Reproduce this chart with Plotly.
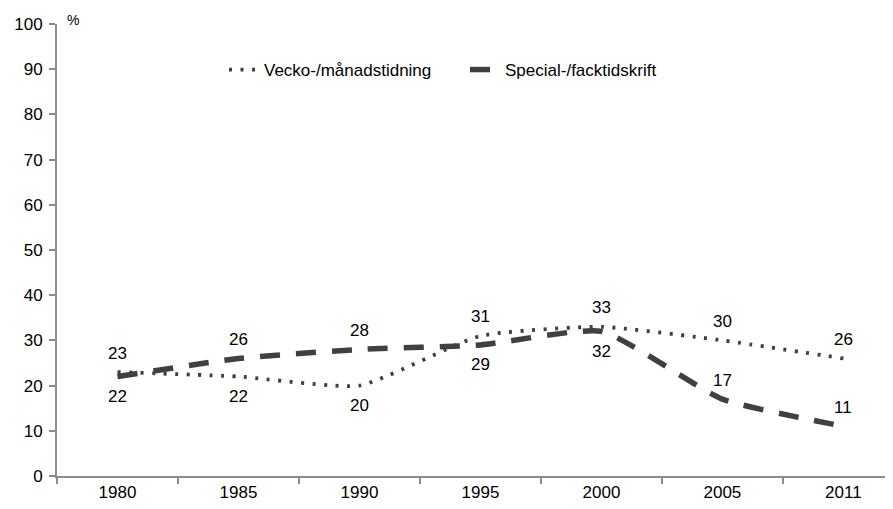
import plotly.graph_objects as go

years = ["1980", "1985", "1990", "1995", "2000", "2005", "2011"]
vecko = [23, 22, 20, 31, 33, 30, 26]
special = [22, 26, 28, 29, 32, 17, 11]
vecko_pos = ["above", "below", "below", "above", "above", "above", "above"]
special_pos = ["below", "above", "above", "below", "below", "above", "above"]
yticks = [0, 10, 20, 30, 40, 50, 60, 70, 80, 90, 100]

xs = list(range(len(years)))
col = "#404040"
font = "Liberation Sans, Arial, sans-serif"
fs = 17
W, H = 893, 509

fig = go.Figure()
fig.add_trace(go.Scatter(x=xs, y=vecko, mode="lines", name="Vecko-/månadstidning", legend="legend",
                         line=dict(color=col, width=3.8, dash="3px,8.5px", shape="spline", smoothing=0.5)))
fig.add_trace(go.Scatter(x=xs, y=special, mode="lines", name="Special-/facktidskrift", legend="legend2",
                         line=dict(color=col, width=5.5, dash="20px,16px", shape="spline", smoothing=0.5)))

anns = []
for vals, pos in ((vecko, vecko_pos), (special, special_pos)):
    for i, (v, p) in enumerate(zip(vals, pos)):
        anns.append(dict(x=xs[i], y=v, text=str(v), showarrow=False,
                         yshift=19 if p == "above" else -20,
                         font=dict(size=fs, color="black", family=font)))
anns.append(dict(xref="paper", yref="paper", x=0.0, y=1.0, xshift=8, yshift=4, text="%",
                 showarrow=False, xanchor="left", yanchor="middle",
                 font=dict(size=14, color="black", family=font)))

leg_common = dict(orientation="h", xref="container", yref="container", xanchor="left", yanchor="middle",
                  font=dict(size=fs, color="black", family=font), bgcolor="rgba(0,0,0,0)")

fig.update_layout(
    width=W, height=H,
    margin=dict(l=49, r=8, t=16, b=41, autoexpand=False),
    paper_bgcolor="white", plot_bgcolor="white",
    font=dict(family=font, size=fs, color="black"),
    showlegend=True,
    legend=dict(x=216 / W, y=1 - 62 / H, **leg_common),
    legend2=dict(x=457 / W, y=1 - 62 / H, **leg_common),
    annotations=anns,
    xaxis=dict(range=[-0.5, 6.41], tickmode="array", tickvals=xs, ticktext=years,
               ticks="", showgrid=False, zeroline=False, showline=True, automargin=False,
               linecolor="#8c8c8c", linewidth=2,
               minor=dict(tick0=0.5, dtick=1, ticks="outside", ticklen=6, tickcolor="#8c8c8c", tickwidth=1.5, showgrid=False),
               tickfont=dict(size=fs), fixedrange=True),
    yaxis=dict(range=[0, 100], tickmode="array", tickvals=yticks, ticks="outside", ticklen=6,
               tickcolor="#8c8c8c", tickwidth=1.5, showgrid=False, zeroline=False, showline=True,
               ticklabelstandoff=3,
               automargin=False, linecolor="#8c8c8c", linewidth=2, tickfont=dict(size=fs)),
)
fig.write_html("out.html")
